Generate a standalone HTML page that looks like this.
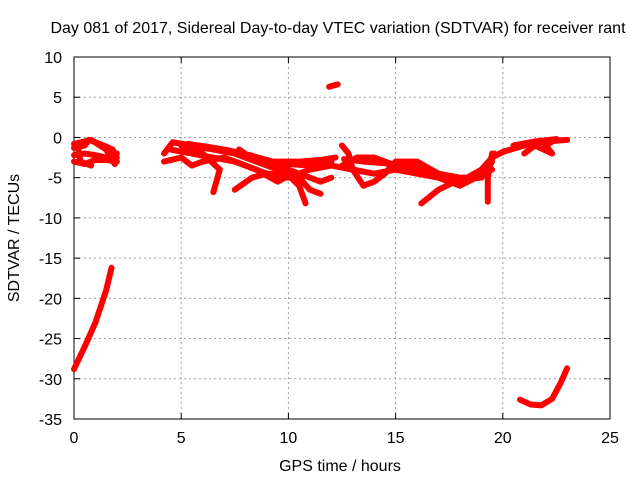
<!DOCTYPE html>
<html><head><meta charset="utf-8"><style>
body{margin:0;background:#fff;}
svg text{font-family:"Liberation Sans",sans-serif;font-size:16px;fill:#000;}
</style></head><body>
<svg id="c" width="640" height="480" xmlns="http://www.w3.org/2000/svg">
<rect width="640" height="480" fill="#fff"/>
<text x="338" y="33" text-anchor="middle">Day 081 of 2017, Sidereal Day-to-day VTEC variation (SDTVAR) for receiver rant</text>
<text x="340" y="471" text-anchor="middle">GPS time / hours</text>
<text transform="translate(19,238) rotate(-90)" text-anchor="middle">SDTVAR / TECUs</text>
<g id="grid"></g><g id="axes"></g><g id="series"></g>
</svg>
<script>
const xTicks=[0,5,10,15,20,25];
const yTicks=[10,5,0,-5,-10,-15,-20,-25,-30,-35];
const trackEarlyA=[[0,-1.3],[0.5,-1],[0.7,-0.3],[1.2,-0.8],[1.8,-1.5],[2,-2.5]];
const trackEarlyB=[[0,-3],[0.5,-3.3],[1,-2.8],[1.5,-2.8],[2,-3]];
const trackEarlyC=[[0,-2.2],[0.5,-2],[1,-2.2],[1.5,-2.5],[2,-2]];
const trackEarlyD=[[0.2,-1.5],[0.3,-3],[0.8,-3.5]];
const trackEarlyE=[[0,-0.8],[0.8,-0.3],[1.5,-1.5],[1.9,-3.3]];
const trackRamp=[[0,-28.8],[0.5,-26],[1,-23],[1.5,-19],[1.75,-16.2]];
const trackSpike=[[11.9,6.3],[12.3,6.6]];
const trackLate=[[20.8,-32.6],[21.3,-33.2],[21.8,-33.3],[22.3,-32.5],[22.7,-30.5],[23,-28.7]];
const trackM1=[[4.2,-2],[4.6,-0.6],[5.5,-1],[6.5,-1.5],[7.5,-2],[8.5,-3],[9.5,-3],[10.5,-3],[11.5,-2.8],[12.2,-2.5]];
const trackM2=[[4.2,-3],[5,-2.5],[5.5,-3.5],[6,-3],[7,-2.5],[8,-3.5],[9,-4.5],[10,-5],[11,-4],[12,-3.5],[13,-4],[14,-4.5],[15,-4],[16,-4.5],[17,-5],[18,-5.5],[19,-4],[19.5,-2.5],[20,-1.8],[21,-1],[22,-0.5],[23,-0.3]];
const trackM3=[[5,-1],[6,-2],[6.8,-4],[6.5,-6.8]];
const trackM4=[[7.7,-1.5],[8.5,-3],[9.5,-4],[10.5,-5],[11,-6.5],[11.5,-7]];
const trackM5=[[7.5,-6.5],[8.3,-5],[9,-4.5],[10,-4.7],[10.5,-6],[10.8,-8.2]];
const trackM6=[[9,-2.8],[10,-4],[11.5,-5.5],[12,-5]];
const trackM7=[[12.5,-1],[12.8,-2],[13,-4],[13.5,-6],[14,-5.5],[14.5,-4.5],[15,-3],[16,-3],[17,-4.5],[18,-5],[18.5,-5]];
const trackM8=[[12.5,-3.5],[13.2,-2.5],[14,-2.5],[15,-3.5],[16,-3.5],[17,-5],[18,-6],[19.5,-4]];
const trackM9=[[16.2,-8.2],[17,-6.5],[18,-5.2],[19,-5],[19.5,-3]];
const trackM10=[[19.5,-2],[19.3,-5],[19.3,-8]];
const trackM11=[[20.5,-1],[21.5,-0.5],[22.5,-0.2],[22,-1],[22.3,-2],[21.5,-1],[21,-2]];
const trackM12=[[4.5,-1.5],[5.5,-2],[6.5,-2.5],[7.5,-3],[8.5,-4],[9.5,-5.5],[10.2,-4.5]];
const trackM13=[[5.3,-0.8],[6.3,-1.2],[7.2,-1.6],[8.2,-2.2],[9.5,-3.2],[11,-3.5],[12,-3]];
const trackM14=[[12.6,-2.7],[13.5,-3],[14.5,-3.2],[15.5,-3.8],[16.5,-4.3],[17.5,-5],[18.5,-5.2],[19.2,-4.5],[19.6,-2]];
const tracks=[trackEarlyA,trackEarlyB,trackEarlyC,trackEarlyD,trackEarlyE,trackRamp,trackSpike,trackLate,trackM1,trackM2,trackM3,trackM4,trackM5,trackM6,trackM7,trackM8,trackM9,trackM10,trackM11,trackM12,trackM13,trackM14];
const L=74,R=610,T=57,B=419;
const sx=v=>L+(v-0)/25*(R-L);
const sy=v=>T+(10-v)/45*(B-T);
const NS="http://www.w3.org/2000/svg";
function mk(t,a,p){const e=document.createElementNS(NS,t);for(const k in a)e.setAttribute(k,a[k]);p.appendChild(e);return e;}
const g=document.getElementById('grid'),ax=document.getElementById('axes'),s=document.getElementById('series');
xTicks.forEach(v=>{const x=sx(v);
 if(v>0&&v<25){const l=mk('line',{x1:x,x2:x,y1:T,y2:B,stroke:'#a0a0a0','stroke-dasharray':'2,3'},g);
 
 }
 mk('line',{x1:x,x2:x,y1:B,y2:B-6,stroke:'#000'},ax);mk('line',{x1:x,x2:x,y1:T,y2:T+6,stroke:'#000'},ax);
 const t=mk('text',{x:x,y:B+24,'text-anchor':'middle'},ax);t.textContent=v;
 
 });
yTicks.forEach(v=>{const y=sy(v);
 if(v<10&&v>-35){const l=mk('line',{x1:L,x2:R,y1:y,y2:y,stroke:'#a0a0a0','stroke-dasharray':'2,3'},g);
 
 }
 mk('line',{x1:L,x2:L+6,y1:y,y2:y,stroke:'#000'},ax);mk('line',{x1:R,x2:R-6,y1:y,y2:y,stroke:'#000'},ax);
 const t=mk('text',{x:L-12,y:y+6,'text-anchor':'end'},ax);t.textContent=v;
 
 });
const fr=mk('rect',{x:L,y:T,width:R-L,height:B-T,fill:'none',stroke:'#000'},ax);


tracks.forEach(tr=>{const p=mk('polyline',{points:tr.map(d=>sx(d[0])+','+sy(d[1])).join(' '),fill:'none',stroke:'#ff0000','stroke-width':6,'stroke-linejoin':'round','stroke-linecap':'round'},s);
 
 });
</script>
</body></html>
